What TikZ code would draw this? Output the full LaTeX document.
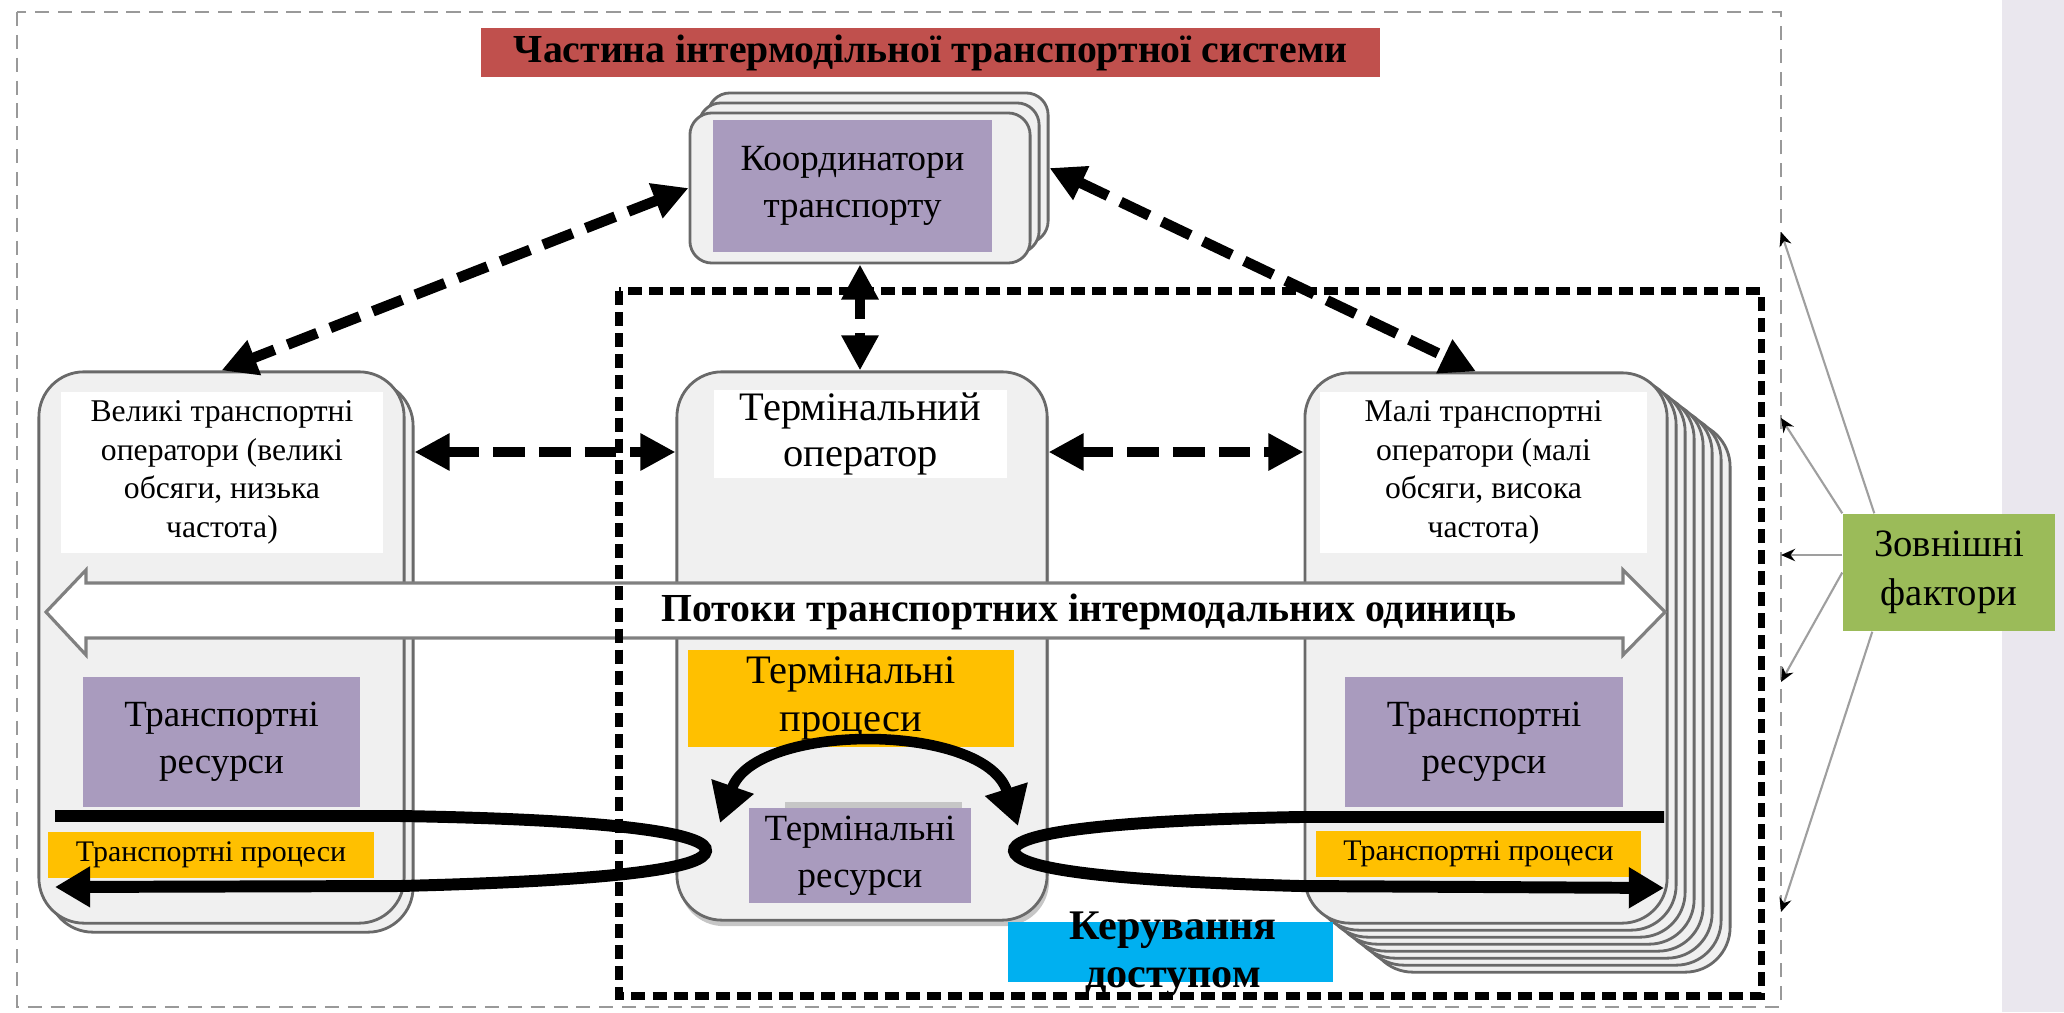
\documentclass[tikz,border=0pt]{standalone}
\usepackage{fontspec}
\setmainfont{Liberation Serif}
\usetikzlibrary{arrows.meta,positioning}

\definecolor{titlered}{RGB}{192,80,77}
\definecolor{respurple}{RGB}{169,155,190}
\definecolor{procyellow}{RGB}{255,192,0}
\definecolor{accessblue}{RGB}{0,176,240}
\definecolor{factorgreen}{RGB}{155,187,89}
\definecolor{boxgray}{RGB}{240,240,240}
\definecolor{edgegray}{RGB}{105,105,105}
\definecolor{stripgray}{RGB}{234,231,238}

\tikzset{
  opbox/.style={draw=edgegray, line width=0.8pt, fill=boxgray, rounded corners=0.45cm, inner sep=0pt},
  labelbox/.style={fill=white, inner sep=0pt, align=center, font=\fontsize{9}{11}\selectfont},
  resbox/.style={fill=respurple, inner sep=0pt, align=center, font=\fontsize{10.5}{13.5}\selectfont},
  procbox/.style={fill=procyellow, inner sep=0pt, align=center},
  dasharrow/.style={{Triangle[length=10pt,width=10pt]}-{Triangle[length=10pt,width=10pt]}, line width=3pt, dash pattern=on 9pt off 4pt},
  looparrow/.style={-{Triangle[length=10pt,width=11pt]}, line width=3.4pt},
  factorline/.style={-{Stealth[length=4pt,width=3.5pt,color=black]}, draw=gray!75, line width=0.6pt}
}

\begin{document}
\begin{tikzpicture}[x=0.01cm, y=-0.01cm]

	\useasboundingbox (0,0) rectangle (2064,1012);
	\fill[stripgray] (2002,0) rectangle (2064,1012);
	\draw[gray!80, line width=0.8pt, dash pattern=on 4pt off 2.5pt] (17,12) rectangle (1781,1007);

	\node[fill=titlered, minimum width=8.99cm, minimum height=0.49cm, inner sep=0pt, font=\bfseries\fontsize{11.3}{13}\selectfont] (title) at (930.5,52.5) {Частина інтермодільної транспортної системи};

	% coordinators
	\node[opbox, rounded corners=0.22cm, minimum width=3.40cm, minimum height=1.50cm] (coordback2) at (878,168) {};
	\node[opbox, rounded corners=0.22cm, minimum width=3.40cm, minimum height=1.50cm] (coordback1) at (869,178) {};
	\node[opbox, rounded corners=0.22cm, minimum width=3.40cm, minimum height=1.50cm] (coord) at (860,188) {};
	\node[resbox, minimum width=2.79cm, minimum height=1.32cm] (coordres) at (852.5,186) {Координатори\\транспорту};

	% large operators
	\node[opbox, minimum width=3.65cm, minimum height=5.51cm] (leftback) at (230.5,656.5) {};
	\node[opbox, minimum width=3.65cm, minimum height=5.51cm] (leftop) at (221.5,647.5) {};
	\node[labelbox, minimum width=3.22cm, minimum height=1.61cm] (leftlabel) at (222,472.5) {Великі транспортні\\оператори (великі\\обсяги, низька\\частота)};
	\node[resbox, minimum width=2.77cm, minimum height=1.30cm] (leftres) at (221.5,742) {Транспортні\\ресурси};
	\node[procbox, minimum width=3.26cm, minimum height=0.46cm, font=\fontsize{8.5}{10}\selectfont] (leftproc) at (211,855) {Транспортні процеси};

	% terminal
	\node[fill=gray!45, minimum width=3.70cm, minimum height=5.48cm, rounded corners=0.45cm] (termshadow) at (864,652) {};
	\node[opbox, minimum width=3.70cm, minimum height=5.48cm] (term) at (862,646) {};
	\node[labelbox, minimum width=2.93cm, minimum height=0.88cm, font=\fontsize{11.5}{13}\selectfont] (termlabel) at (860.5,434) {Термінальний\\оператор};
	\node[procbox, minimum width=3.26cm, minimum height=0.97cm, font=\fontsize{11.5}{13.5}\selectfont] (termproc) at (851,698.5) {Термінальні\\процеси};
	\fill[gray!45] (785,802) rectangle (962,808);
	\node[resbox, minimum width=2.22cm, minimum height=0.95cm] (termres) at (860,855.5) {Термінальні\\ресурси};

	% small operators
	\foreach \k in {7,...,1}
		\node[opbox, minimum width=3.62cm, minimum height=5.50cm] (rightback\k) at ({1486+9*\k},{648+7*\k}) {};
	\node[opbox, minimum width=3.62cm, minimum height=5.50cm] (rightop) at (1486,648) {};
	\node[labelbox, minimum width=3.27cm, minimum height=1.61cm] (rightlabel) at (1483.5,472.5) {Малі транспортні\\оператори (малі\\обсяги, висока\\частота)};
	\node[resbox, minimum width=2.78cm, minimum height=1.30cm] (rightres) at (1484,742) {Транспортні\\ресурси};
	\node[procbox, minimum width=3.25cm, minimum height=0.46cm, font=\fontsize{8.5}{10}\selectfont] (rightproc) at (1478.5,854) {Транспортні процеси};

	% flows
	\draw[gray, line width=0.9pt, fill=white] (46,612) -- (86,570) -- (86,583) -- (1623,583) -- (1623,570) -- (1665,612) -- (1623,655) -- (1623,638) -- (86,638) -- (86,655) -- cycle;
	\node[font=\bfseries\fontsize{11.3}{13}\selectfont] (flow) at (1089,612) {Потоки транспортних інтермодальних одиниць};

	\draw[line width=2pt, dash pattern=on 4pt off 2pt] (619,291) rectangle (1761,996);

	\node[fill=accessblue, minimum width=3.25cm, minimum height=0.60cm, inner sep=0pt] (access) at (1170.5,952) {};
	\node[font=\bfseries\fontsize{12}{13.5}\selectfont, align=center] (accesstext) at (1173,954) {Керування\\доступом};

	\node[fill=factorgreen, minimum width=2.12cm, minimum height=1.17cm, inner sep=0pt, align=center, font=\fontsize{11}{14}\selectfont] (factors) at (1949,572.5) {Зовнішні\\фактори};

	\coordinate (ext1) at (1781,232);
	\coordinate (ext2) at (1781,418);
	\coordinate (ext3) at (1781,555);
	\coordinate (ext4) at (1781,682);
	\coordinate (ext5) at (1781,912);
	\draw[factorline] ([xshift=0.32cm]factors.north west) -- (ext1);
	\draw[factorline] (factors.north west) -- (ext2);
	\draw[factorline] (factors.west |- ext3) -- (ext3);
	\draw[factorline] (factors.west) -- (ext4);
	\draw[factorline] ([xshift=0.30cm]factors.south west) -- (ext5);

	\coordinate (midlevel) at (0,452);
	\draw[dasharrow] (coord.west) -- (leftop.north);
	\draw[dasharrow] (coordback2.east) -- ([xshift=-0.1cm]rightop.north);
	\draw[dasharrow, dash pattern=on 6pt off 4pt] (coord.south) -- (coord.south |- term.north);
	\draw[dasharrow] (leftback.east |- midlevel) -- (term.west |- midlevel);
	\draw[dasharrow] (term.east |- midlevel) -- (rightop.west |- midlevel);

	% transport processes
	\coordinate (lloopin) at (55,816);
	\coordinate (lloopout) at (55,887);
	\coordinate (rloopin) at (1664,817);
	\coordinate (rloopout) at (1664,888);
	\draw[looparrow] (lloopin) -- (400,816) .. controls (640,820) and (708,836) .. (706,851) .. controls (704,866) and (640,880) .. (400,886) -- (lloopout);
	\draw[looparrow] (rloopin) -- (1300,817) .. controls (1080,821) and (1012,836) .. (1014,851) .. controls (1016,866) and (1080,880) .. (1300,886) -- (rloopout);

	\coordinate (arcl) at (720,823);
	\coordinate (arcr) at (1018,826);
	\draw[{Triangle[length=11pt,width=12pt]}-{Triangle[length=11pt,width=12pt]}, line width=3pt] (arcl) .. controls (755,722) and (985,722) .. (arcr);

\end{tikzpicture}
\end{document}
